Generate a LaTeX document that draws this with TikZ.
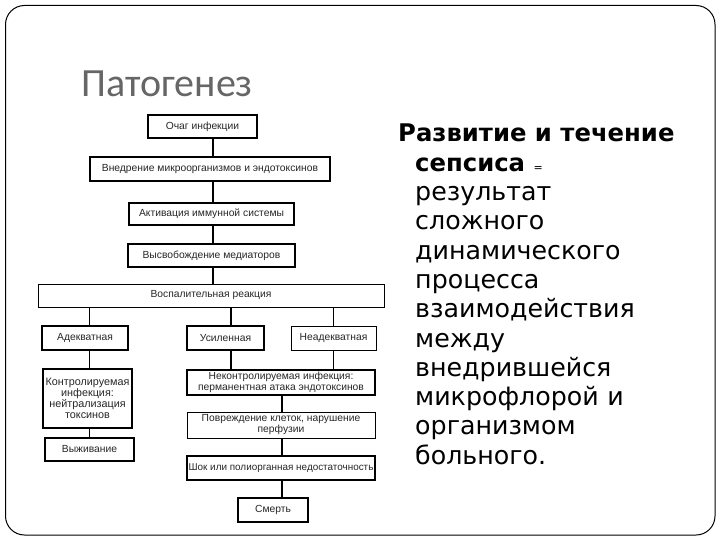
\documentclass[tikz,border=0pt]{standalone}
\usepackage{fontspec}
\setmainfont{Liberation Sans}
\newfontfamily\titlefont{Carlito}
\newfontfamily\bodyfont{DejaVu Sans}
\begin{document}
\begin{tikzpicture}[x=1pt,y=-1pt,
  box/.style={draw=black, line width=1.7pt, rectangle, inner sep=0pt, align=center,
     font=\fontsize{10.3}{11}\selectfont, text=black!85},
  thinbox/.style={box, line width=1pt},
  conn/.style={draw=black, line width=1.7pt},
  thinconn/.style={draw=black, line width=1pt}]
\useasboundingbox (0,0) rectangle (720,540);
\draw[line width=1pt, rounded corners=19pt] (5.5,5.5) rectangle (715,535);
\node[anchor=base west, inner sep=0pt, text=black!60, font=\titlefont\fontsize{40}{40}\selectfont] (title) at (81,97) {Патогенез};

\node[box, minimum width=109pt, minimum height=23pt] (b1) at (202.5,126.5) {Очаг инфекции};
\node[box, minimum width=240pt, minimum height=24pt] (b2) at (210,169) {Внедрение микроорганизмов и эндотоксинов};
\node[box, minimum width=165pt, minimum height=22pt] (b3) at (211.5,214) {Активация иммунной системы};
\node[box, minimum width=167pt, minimum height=23pt] (b4) at (211.5,255.5) {Высвобождение медиаторов};
\node[thinbox, minimum width=346pt, minimum height=23pt] (b5) at (211,295.5) {Воспалительная реакция};
\node[box, minimum width=86pt, minimum height=24pt] (b6) at (85,338) {Адекватная};
\node[box, minimum width=77pt, minimum height=24pt] (b7) at (225.5,338) {Усиленная};
\node[thinbox, minimum width=85pt, minimum height=24pt] (b8) at (333.5,338) {Неадекватная};
\node[box, minimum width=89pt, minimum height=59pt, font=\fontsize{10.8}{11}\selectfont] (b9) at (87.5,398.5) {Контролируемая\\инфекция:\\нейтрализация\\токсинов};
\node[box, minimum width=89pt, minimum height=23pt] (b10) at (89.5,449.5) {Выживание};
\node[box, minimum width=188pt, minimum height=25pt] (b11) at (281,382.5) {Неконтролируемая инфекция:\\перманентная атака эндотоксинов};
\node[thinbox, minimum width=188pt, minimum height=26pt] (b12) at (281,425) {Повреждение клеток, нарушение\\перфузии};
\node[box, minimum width=188pt, minimum height=24pt, font=\fontsize{9.9}{11}\selectfont] (b13) at (281,468) {Шок или полиорганная недостаточность};
\node[box, minimum width=70pt, minimum height=24pt] (b14) at (273,510) {Смерть};

\coordinate (t) at (213,0);
\coordinate (l) at (89,0);
\coordinate (m) at (231,0);
\coordinate (r) at (333,0);
\coordinate (c) at (282,0);

\draw[conn] (b1.south -| t) -- (b2.north -| t);
\draw[conn] (b2.south -| t) -- (b3.north -| t);
\draw[conn] (b3.south -| t) -- (b4.north -| t);
\draw[conn] (b4.south -| t) -- (b5.north -| t);
\draw[thinconn] (b5.south -| l) -- (b6.north -| l);
\draw[conn] (b5.south -| m) -- (b7.north -| m);
\draw[thinconn] (b5.south -| r) -- (b8.north -| r);
\draw[thinconn] (b6.south -| l) -- (b9.north -| l);
\draw[thinconn] (b9.south -| l) -- (b10.north -| l);
\draw[conn] (b7.south -| m) -- (b11.north -| m);
\draw[thinconn] (b8.south -| r) -- (b11.north -| r);
\draw[conn] (b11.south -| c) -- (b12.north -| c);
\draw[conn] (b12.south -| c) -- (b13.north -| c);
\draw[conn] (b13.south -| c) -- (b14.north -| c);

\node[anchor=north west, inner sep=0pt, text width=315pt, align=left,
      font=\bodyfont\fontsize{25.3}{29.3}\selectfont] (txt) at (398,124)
 {{\fontsize{24.3}{29.3}\selectfont\bfseries Развитие и течение}\\
  \hspace*{17pt}{\fontsize{24.3}{29.3}\selectfont\bfseries сепсиса} {\fontsize{11}{11}\selectfont =}\\
  \hspace*{17pt}результат\\
  \hspace*{17pt}сложного\\
  \hspace*{17pt}динамического\\
  \hspace*{17pt}процесса\\
  \hspace*{17pt}взаимодействия\\
  \hspace*{17pt}между\\
  \hspace*{17pt}внедрившейся\\
  \hspace*{17pt}микрофлорой и\\
  \hspace*{17pt}организмом\\
  \hspace*{17pt}больного.};
\end{tikzpicture}
\end{document}
